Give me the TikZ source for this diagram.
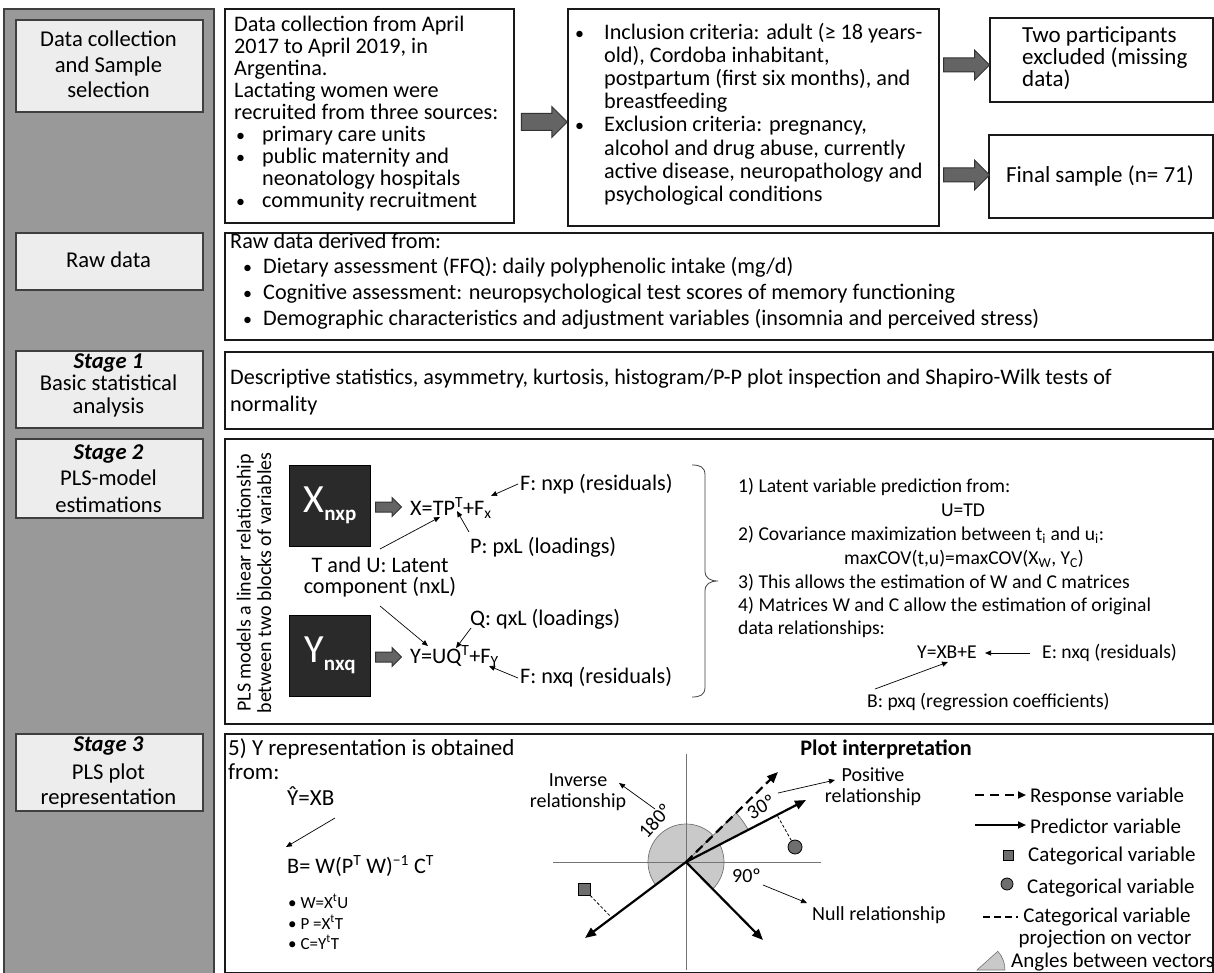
\documentclass[tikz,border=0pt]{standalone}
\usepackage{fontspec}
\setmainfont{Carlito}
\usetikzlibrary{shapes.arrows,arrows.meta,calc}
\definecolor{colgray}{HTML}{999999}
\definecolor{colborder}{HTML}{3F3F3F}
\definecolor{lblfill}{HTML}{EDEDED}
\definecolor{arrfill}{HTML}{646464}
\definecolor{matfill}{HTML}{2A2A2A}
\definecolor{secfill}{HTML}{C9C9C9}
\definecolor{mkfill}{HTML}{6E6E6E}
\newcommand\fM{\fontsize{22.2}{23}\selectfont}
\newcommand\fL{\fontsize{22.6}{23}\selectfont}
\newcommand\fR{\fontsize{23}{23}\selectfont}
\newcommand\fS{\fontsize{19.6}{22}\selectfont}
\newcommand\fP{\fontsize{20}{22}\selectfont}
\newcommand\fG{\fontsize{21}{22}\selectfont}
\newcommand\fT{\fontsize{17}{18}\selectfont}
\newcommand\bul{{\fontsize{18}{18}\selectfont •}}
\newcommand\mkbox[6]{\node[#1, minimum width=#5-#3, minimum height=#6-#4, anchor=north west, inner sep=0pt] (#2) at (#3,-#4) {};}
\begin{document}
\begin{tikzpicture}[x=1pt,y=1pt,
 colbox/.style={draw=colborder, fill=colgray, line width=1.6pt},
 lbl/.style={draw=colborder, fill=lblfill, line width=1.6pt},
 cbox/.style={draw=black!90, fill=white, line width=1.8pt},
 ln/.style={inner sep=0pt, font=\fM, anchor=base west},
 lnc/.style={inner sep=0pt, font=\fM, anchor=base},
 lab/.style={inner sep=0pt, font=\fL, anchor=base},
 sm/.style={inner sep=0pt, font=\fS, anchor=base west},
 smc/.style={inner sep=0pt, font=\fS, anchor=base},
 pl/.style={inner sep=0pt, font=\fP, anchor=base west},
 plc/.style={inner sep=0pt, font=\fP, anchor=base},
 lg/.style={inner sep=0pt, font=\fG, anchor=base west},
 lgc/.style={inner sep=0pt, font=\fG, anchor=base},
 blk/.style={single arrow, draw=black!80, fill=arrfill, line width=1pt, single arrow tip angle=90, inner xsep=0pt, outer sep=0pt},
 pt/.style={-{Triangle[length=6pt,width=5pt]}, line width=0.7pt},
 vec/.style={-{Triangle[length=11pt,width=9pt]}, line width=2.2pt},
 mat/.style={fill=matfill, draw=black, line width=1pt},
]
\useasboundingbox (0,0) rectangle (1214,-973);
\fill[white] (0,0) rectangle (1214,-973);

% left column
\mkbox{colbox}{col}{3}{8}{213}{985}
\mkbox{lbl}{L0}{15}{19}{202}{111}
\mkbox{lbl}{L1}{15}{232}{202}{289}
\mkbox{lbl}{L2}{15}{350}{202}{427}
\mkbox{lbl}{L3}{15}{438}{202}{517}
\mkbox{lbl}{L4}{15}{733}{202}{810}

\node[lab] (l0a) at (108.5,-47) {Data collection};
\node[lab] (l0b) at (108.5,-73) {and Sample};
\node[lab] (l0c) at (108.5,-98) {selection};
\node[lab] (l1a) at (108.5,-268) {Raw data};
\node[lab] (l2a) at (108.5,-368) {\textbf{\textit{Stage 1}}};
\node[lab] (l2b) at (108.5,-390) {Basic statistical};
\node[lab] (l2c) at (108.5,-413) {analysis};
\node[lab] (l3a) at (108.5,-459) {\textbf{\textit{Stage 2}}};
\node[lab] (l3b) at (108.5,-485) {PLS-model};
\node[lab] (l3c) at (108.5,-512) {estimations};
\node[lab] (l4a) at (108.5,-751) {\textbf{\textit{Stage 3}}};
\node[lab] (l4b) at (108.5,-779) {PLS plot};
\node[lab] (l4c) at (108.5,-804) {representation};

% content boxes
\mkbox{cbox}{dcbox}{224}{8}{513}{222}
\mkbox{cbox}{incbox}{567}{8}{938}{225}
\mkbox{cbox}{twobox}{989}{17}{1212}{101}
\mkbox{cbox}{finbox}{988}{134}{1212}{217}
\mkbox{cbox}{rawbox}{224}{232}{1212}{339}
\mkbox{cbox}{s1box}{224}{351}{1212}{428}
\mkbox{cbox}{s2box}{224}{438}{1212}{723}
\mkbox{cbox}{s3box}{224}{733}{1212}{972}

% block arrows
\node[blk, minimum height=46pt, inner ysep=8pt, single arrow head extend=7pt] (ar1) at (540,-122) {};
\node[blk, minimum height=46pt, inner ysep=6.5pt, single arrow head extend=8pt] (ar2) at (963,-65) {};
\node[blk, minimum height=46pt, inner ysep=6.5pt, single arrow head extend=8pt] (ar3) at (963,-175) {};

% data collection text
\node[ln] (d1) at (234,-32) {Data collection from April};
\node[ln] (d2) at (234,-54) {2017 to April 2019, in};
\node[ln] (d3) at (234,-76) {Argentina.};
\node[ln] (d4) at (234,-98) {Lactating women were};
\node[ln] (d5) at (234,-120) {recruited from three sources:};
\node[ln] (d6b) at (236,-142) {\bul};
\node[ln] (d6) at (262,-142) {primary care units};
\node[ln] (d7b) at (236,-164) {\bul};
\node[ln] (d7) at (262,-164) {public maternity and};
\node[ln] (d8) at (262,-186) {neonatology hospitals};
\node[ln] (d9b) at (236,-208) {\bul};
\node[ln] (d9) at (262,-208) {community recruitment};

% inclusion text
\node[ln] (i1b) at (575,-40) {\bul};
\node[ln] (i1) at (604,-40) {Inclusion criteria: adult (≥ 18 years-};
\node[ln] (i2) at (604,-63) {old), Cordoba inhabitant,};
\node[ln] (i3) at (604,-86) {postpartum (first six months), and};
\node[ln] (i4) at (604,-109) {breastfeeding};
\node[ln] (i5b) at (575,-132) {\bul};
\node[ln] (i5) at (604,-132) {Exclusion criteria: pregnancy,};
\node[ln] (i6) at (604,-156) {alcohol and drug abuse, currently};
\node[ln] (i7) at (604,-179) {active disease, neuropathology and};
\node[ln] (i8) at (604,-202) {psychological conditions};

\node[inner sep=0pt, font=\fR, anchor=base west] (tw1) at (1022,-43) {Two participants};
\node[inner sep=0pt, font=\fR, anchor=base west] (tw2) at (1022,-65) {excluded (missing};
\node[inner sep=0pt, font=\fR, anchor=base west] (tw3) at (1022,-87) {data)};
\node[inner sep=0pt, font=\fR, anchor=base] (fs) at (1100,-183) {Final sample (n= 71)};

% raw data
\node[ln] (r0) at (230,-249) {Raw data derived from:};
\node[ln] (r1b) at (243,-274) {\bul};
\node[ln] (r1) at (263,-274) {Dietary assessment (FFQ): daily polyphenolic intake (mg/d)};
\node[ln] (r2b) at (243,-300) {\bul};
\node[ln] (r2) at (263,-300) {Cognitive assessment: neuropsychological test scores of memory functioning};
\node[ln] (r3b) at (243,-325) {\bul};
\node[ln] (r3) at (263,-325) {Demographic characteristics and adjustment variables (insomnia and perceived stress)};

% stage 1
\node[ln] (s1a) at (230,-384) {Descriptive statistics, asymmetry, kurtosis, histogram/P-P plot inspection and Shapiro-Wilk tests of};
\node[ln] (s1b) at (230,-411) {normality};

% stage 2 left
\node[rotate=90, font=\fontsize{20}{20.5}\selectfont, align=center, inner sep=0pt] (rot) at (254,-583) {PLS models a linear relationship\\between two blocks of variables};
\mkbox{mat}{xm}{289}{465}{370}{546}
\mkbox{mat}{ym}{289}{615}{370}{696}
\node[text=white, inner sep=0pt] (xl) at (330,-505) {{\fontsize{40}{40}\selectfont X}\raisebox{-8pt}{\fontsize{21}{21}\selectfont\bfseries nxp}};
\node[text=white, inner sep=0pt] (yl) at (330,-655) {{\fontsize{40}{40}\selectfont Y}\raisebox{-8pt}{\fontsize{21}{21}\selectfont\bfseries nxq}};
\node[blk, minimum height=26pt, inner ysep=4.5pt, single arrow head extend=4.5pt] (ar4) at (386,-507) {};
\node[blk, minimum height=26pt, inner ysep=4.5pt, single arrow head extend=4.5pt] (ar5) at (386,-657) {};

\node[ln] (ex) at (410,-515) {X=TP\textsuperscript{T}+F\textsubscript{x}};
\node[ln] (ey) at (410,-663) {Y=UQ\textsuperscript{T}+F\textsubscript{Y}};
\node[ln] (fx) at (520,-490) {F: nxp (residuals)};
\node[ln] (px) at (470,-553) {P: pxL (loadings)};
\node[lnc] (tu1) at (380,-572) {T and U: Latent};
\node[lnc] (tu2) at (380,-593) {component (nxL)};
\node[ln] (qx) at (470,-625) {Q: qxL (loadings)};
\node[ln] (fy) at (520,-683) {F: nxq (residuals)};

\coordinate (c1s) at (518,-484); \coordinate (c1e) at (491,-496);
\coordinate (c2s) at (469,-532); \coordinate (c2e) at (457,-511);
\coordinate (c3s) at (380,-549); \coordinate (c3e) at (440,-517);
\coordinate (c4s) at (380,-606); \coordinate (c4e) at (428,-646);
\coordinate (c5s) at (471,-628); \coordinate (c5e) at (456,-648);
\coordinate (c6s) at (518,-678); \coordinate (c6e) at (489,-666);
\draw[pt] (c1s) -- (c1e);
\draw[pt] (c2s) -- (c2e);
\draw[pt] (c3s) -- (c3e);
\draw[pt] (c4s) -- (c4e);
\draw[pt] (c5s) -- (c5e);
\draw[pt] (c6s) -- (c6e);

% brace
\draw[line width=0.8pt, black!75] (692,-465) .. controls (700,-465) and (705,-467) .. (705,-475) -- (705,-571) .. controls (705,-578) and (710,-581) .. (718,-581) .. controls (710,-581) and (705,-584) .. (705,-591) -- (705,-687) .. controls (705,-695) and (700,-697) .. (692,-697);

% stage 2 right
\node[sm] (m1) at (738,-492) {1) Latent variable prediction from:};
\node[smc] (m2) at (963,-516) {U=TD};
\node[sm] (m3) at (738,-540) {2) Covariance maximization between t\textsubscript{i} and u\textsubscript{i}:};
\node[smc] (m4) at (964,-564) {maxCOV(t,u)=maxCOV(X\textsubscript{W}, Y\textsubscript{C})};
\node[sm] (m5) at (738,-588) {3) This allows the estimation of W and C matrices};
\node[sm] (m6) at (738,-611) {4) Matrices W and C allow the estimation of original};
\node[sm] (m7) at (738,-634) {data relationships:};
\node[sm] (m8) at (917,-658) {Y=XB+E};
\node[sm] (m9) at (1042,-658) {E: nxq (residuals)};
\node[sm] (m10) at (867,-707) {B: pxq (regression coefficients)};
\coordinate (c7s) at (1030,-653); \coordinate (c7e) at (985,-653);
\coordinate (c8s) at (875,-689); \coordinate (c8e) at (948,-662);
\draw[pt] (c7s) -- (c7e);
\draw[pt] (c8s) -- (c8e);

% stage 3 left
\node[ln, font=\fontsize{23}{23}\selectfont] (y1) at (228,-755) {5) Y representation is obtained};
\node[ln, font=\fontsize{23}{23}\selectfont] (y2) at (228,-779) {from:};
\node[ln, font=\fontsize{23}{23}\selectfont] (y3) at (287,-805) {Ŷ=XB};
\node[ln] (y4) at (287,-873) {B= W(P\textsuperscript{T} W)\textsuperscript{−1} C\textsuperscript{T}};
\node[inner sep=0pt, font=\fT, anchor=base west] (y5) at (288,-908) {• W=X\textsuperscript{t}U};
\node[inner sep=0pt, font=\fT, anchor=base west] (y6) at (288,-929) {• P =X\textsuperscript{t}T};
\node[inner sep=0pt, font=\fT, anchor=base west] (y7) at (288,-949) {• C=Y\textsuperscript{t}T};
\coordinate (c9s) at (335,-818); \coordinate (c9e) at (286,-847);
\draw[pt] (c9s) -- (c9e);

% plot
\node[inner sep=0pt, font=\fM\bfseries, anchor=base] (ptitle) at (886,-755) {Plot interpretation};
\coordinate (O) at (686,-862);
\fill[secfill, draw=black!55, line width=0.7pt] (O) -- ++(-45.4:38pt) arc[start angle=-45.4, end angle=216.9, radius=38pt] -- cycle;
\fill[secfill, draw=black!55, line width=0.7pt] (O) -- ++(27.3:70pt) arc[start angle=27.3, end angle=44.4, radius=70pt] -- cycle;
\coordinate (axt) at (686,-754); \coordinate (axb) at (686,-970);
\coordinate (axl) at (553,-862); \coordinate (axr) at (821,-862);
\draw[black!55, line width=0.8pt] (axt) -- (axb);
\draw[black!55, line width=0.8pt] (axl) -- (axr);
\coordinate (pv) at (806,-800);
\coordinate (rv) at (778,-772);
\coordinate (llv) at (585,-938);
\coordinate (lrv) at (763,-940);
\draw[vec] (O) -- (pv);
\draw[vec, dash pattern=on 9pt off 5pt] (O) -- (rv);
\draw[vec] (O) -- (llv);
\draw[vec] (O) -- (lrv);

\node[circle, draw=black, fill=mkfill, minimum size=14pt, inner sep=0pt, line width=0.8pt] (mc) at (795,-847) {};
\node[rectangle, draw=black, fill=mkfill, minimum size=12pt, inner sep=0pt, line width=0.8pt] (msq) at (584,-889) {};
\coordinate (pc) at (777,-815);
\coordinate (psq) at (612,-918);
\draw[dash pattern=on 3pt off 2pt, line width=0.8pt] (mc) -- (pc);
\draw[dash pattern=on 3pt off 2pt, line width=0.8pt] (msq) -- (psq);

\node[rotate=48, inner sep=0pt, font=\fP] (a180) at (655,-821) {180º};
\node[rotate=30, inner sep=0pt, font=\fP] (a30) at (761,-807) {30º};
\node[pl] (a90) at (732,-882) {90º};
\node[plc] (inv1) at (578,-786) {Inverse};
\node[plc] (inv2) at (578,-807) {relationship};
\node[plc] (pos1) at (873,-781) {Positive};
\node[plc] (pos2) at (873,-802) {relationship};
\node[pl] (nul) at (812,-920) {Null relationship};
\coordinate (c10s) at (655,-809); \coordinate (c10e) at (619,-783);
\coordinate (c11s) at (778,-793); \coordinate (c11e) at (835,-780);
\coordinate (c12s) at (763,-885); \coordinate (c12e) at (807,-903);
\draw[pt] (c10s) -- (c10e);
\draw[pt] (c11s) -- (c11e);
\draw[pt] (c12s) -- (c12e);

% legend
\coordinate (lg1s) at (975,-795); \coordinate (lg1e) at (1026,-795);
\coordinate (lg2s) at (975,-825); \coordinate (lg2e) at (1026,-825);
\draw[-{Triangle[length=8pt,width=7pt]}, line width=2.2pt, dash pattern=on 9pt off 6pt] (lg1s) -- (lg1e);
\draw[-{Triangle[length=8pt,width=7pt]}, line width=2.2pt] (lg2s) -- (lg2e);
\node[lg] (lt1) at (1030,-802) {Response variable};
\node[lg] (lt2) at (1030,-833) {Predictor variable};
\node[rectangle, draw=black, fill=mkfill, minimum size=10pt, inner sep=0pt, line width=0.8pt] (lsq) at (1008,-855) {};
\node[lg] (lt3) at (1028,-861) {Categorical variable};
\node[circle, draw=black, fill=mkfill, minimum size=12pt, inner sep=0pt, line width=0.8pt] (lci) at (1007,-884) {};
\node[lg] (lt4) at (1027,-893) {Categorical variable};
\coordinate (lg3s) at (983,-917); \coordinate (lg3e) at (1018,-917);
\draw[line width=2.2pt, dash pattern=on 7pt off 4pt] (lg3s) -- (lg3e);
\node[lgc] (lt5) at (1107,-922) {Categorical variable};
\node[lgc] (lt6) at (1105,-944) {projection on vector};
\fill[secfill, draw=black!55, line width=0.6pt] (977,-970) -- ++(0:28pt) arc[start angle=0, end angle=42, radius=28pt] -- cycle;
\node[lg] (lt7) at (1011,-967) {Angles between vectors};
\end{tikzpicture}
\end{document}
